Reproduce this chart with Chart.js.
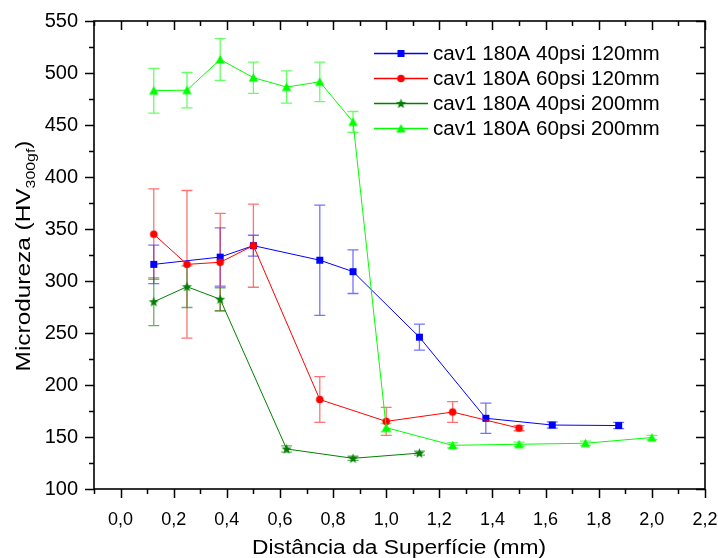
<!DOCTYPE html>
<html>
<head>
<meta charset="utf-8">
<script src="https://cdn.jsdelivr.net/npm/chart.js@4.4.0/dist/chart.umd.min.js"></script>
<style>
body { margin: 0; background: #fff; }
#wrap { width: 718px; height: 558px; }
</style>
</head>
<body>
<div id="wrap"><canvas id="chart"></canvas></div>
<script>
var seriesNames = ["cav1 180A 40psi 120mm", "cav1 180A 60psi 120mm", "cav1 180A 40psi 200mm", "cav1 180A 60psi 200mm"];

var xBlue = [0.125, 0.375, 0.5, 0.75, 0.875, 1.125, 1.375, 1.625, 1.875];
var yBlue = [316, 323, 334, 320, 309, 246, 168, 161.5, 161];
var eBlue = [18.5, 28, 10, 53, 21, 12.5, 14.5, 3, 3];

var xRed = [0.125, 0.25, 0.375, 0.5, 0.75, 1.0, 1.25, 1.5];
var yRed = [345, 316, 318, 334, 186, 165, 174, 158.5];
var eRed = [43.5, 71, 47, 40, 22, 13.5, 10, 2.5];

var xDark = [0.125, 0.25, 0.375, 0.625, 0.875, 1.125];
var yDark = [280, 294.5, 282.5, 138.5, 129.5, 134.5];
var eDark = [23, 20, 11, 3, 2, 2];

var xGreen = [0.125, 0.25, 0.375, 0.5, 0.625, 0.75, 0.875, 1.0, 1.25, 1.5, 1.75, 2.0];
var yGreen = [483, 483.5, 513, 495.5, 486.5, 491.5, 453, 159, 142, 143, 144, 149.5];
var eGreen = [21.5, 17, 20, 15, 15.5, 19, 10, 4, 2.5, 2, 2, 2];

var xTicks = [0.0, 0.2, 0.4, 0.6, 0.8, 1.0, 1.2, 1.4, 1.6, 1.8, 2.0, 2.2];
var yTicks = [100, 150, 200, 250, 300, 350, 400, 450, 500, 550];

var colors = ["#0000ff", "#ff0000", "#008000", "#00ff00"];
var errColors = ["rgba(0,0,255,0.55)", "rgba(255,0,0,0.55)", "rgba(0,128,0,0.6)", "rgba(0,255,0,0.6)"];

// marker images, drawn once
function makeMarker(shape, color) {
    var c = document.createElement('canvas');
    c.width = 11;
    c.height = 11;
    var g = c.getContext('2d');
    g.fillStyle = color;
    g.beginPath();
    if (shape == 'square') {
        g.rect(2, 2, 7, 7);
    } else if (shape == 'circle') {
        g.arc(5.5, 5.5, 3.8, 0, Math.PI * 2);
    } else if (shape == 'triangle') {
        g.moveTo(5.5, 1);
        g.lineTo(10.2, 9.5);
        g.lineTo(0.8, 9.5);
        g.closePath();
    } else if (shape == 'star') {
        for (var i = 0; i < 10; i++) {
            var r = (i % 2 == 0) ? 5.3 : 2.2;
            var a = -Math.PI / 2 + i * Math.PI / 5;
            var px = 5.5 + r * Math.cos(a);
            var py = 5.9 + r * Math.sin(a);
            if (i == 0) g.moveTo(px, py); else g.lineTo(px, py);
        }
        g.closePath();
    }
    g.fill();
    return c;
}

var markers = [
    makeMarker('square', colors[0]),
    makeMarker('circle', colors[1]),
    makeMarker('star', colors[2]),
    makeMarker('triangle', colors[3])
];

function toPoints(xs, ys) {
    var pts = [];
    for (var i = 0; i < xs.length; i++) pts.push({ x: xs[i], y: ys[i] });
    return pts;
}

function makeDataset(i, xs, ys, es) {
    return {
        label: seriesNames[i],
        data: toPoints(xs, ys),
        errors: es,
        borderColor: colors[i],
        backgroundColor: colors[i],
        borderWidth: 1,
        pointStyle: markers[i],
        pointRadius: 5,
        tension: 0,
        order: 4 - i
    };
}

// vertical error bars with caps, drawn under the lines
var errorBars = {
    id: 'errorBars',
    beforeDatasetsDraw: function(chart) {
        var ctx = chart.ctx;
        var ys = chart.scales.y;
        ctx.save();
        ctx.lineWidth = 1.3;
        chart.data.datasets.forEach(function(ds, di) {
            var meta = chart.getDatasetMeta(di);
            ctx.strokeStyle = errColors[di];
            meta.data.forEach(function(pt, j) {
                var v = ds.data[j].y;
                var e = ds.errors[j];
                var top = ys.getPixelForValue(v + e);
                var bot = ys.getPixelForValue(v - e);
                var x = pt.x;
                ctx.beginPath();
                ctx.moveTo(x, top);
                ctx.lineTo(x, bot);
                ctx.moveTo(x - 5.5, top);
                ctx.lineTo(x + 5.5, top);
                ctx.moveTo(x - 5.5, bot);
                ctx.lineTo(x + 5.5, bot);
                ctx.stroke();
            });
        });
        ctx.restore();
    }
};

// box, major and minor ticks, titles and legend
var frame = {
    id: 'frame',
    afterDraw: function(chart) {
        var ctx = chart.ctx;
        var a = chart.chartArea;
        var xs = chart.scales.x;
        var ys = chart.scales.y;
        ctx.save();
        ctx.strokeStyle = '#000';
        ctx.lineWidth = 1.6;
        ctx.strokeRect(a.left, a.top, a.right - a.left, a.bottom - a.top);

        ctx.lineWidth = 1.5;
        ctx.beginPath();
        for (var v = -0.1; v <= 2.2001; v += 0.1) {
            var px = Math.round(xs.getPixelForValue(v)) + 0.5;
            var major = Math.abs(Math.round(v * 10) % 2) == 0;
            var len = major ? 9 : 5;
            ctx.moveTo(px, a.bottom);
            ctx.lineTo(px, a.bottom + len);
            ctx.moveTo(px, a.top);
            ctx.lineTo(px, a.top + len);
        }
        for (var w = 100; w <= 550; w += 25) {
            var py = Math.round(ys.getPixelForValue(w)) + 0.5;
            var len2 = (w % 50 == 0) ? 9 : 5;
            ctx.moveTo(a.left, py);
            ctx.lineTo(a.left - len2, py);
            ctx.moveTo(a.right, py);
            ctx.lineTo(a.right - len2, py);
        }
        ctx.stroke();

        // x title, text a bit wider as in the original
        ctx.fillStyle = '#000';
        ctx.font = '20px "Liberation Sans", Arial, sans-serif';
        ctx.textAlign = 'center';
        ctx.textBaseline = 'alphabetic';
        ctx.translate(399, 554);
        ctx.scale(1.14, 1);
        ctx.fillText('Distância da Superfície (mm)', 0, 0);
        ctx.setTransform(1, 0, 0, 1, 0, 0);

        // y title with subscript
        var mainFont = '20px "Liberation Sans", Arial, sans-serif';
        var subFont = '13px "Liberation Sans", Arial, sans-serif';
        var t1 = 'Microdureza (HV';
        var t2 = '300gf';
        var t3 = ')';
        ctx.font = mainFont;
        var w1 = ctx.measureText(t1).width;
        var w3 = ctx.measureText(t3).width;
        ctx.font = subFont;
        var w2 = ctx.measureText(t2).width;
        var total = w1 + w2 + w3;
        ctx.translate(30, 256);
        ctx.rotate(-Math.PI / 2);
        ctx.scale(1.22, 1);
        ctx.textAlign = 'left';
        var sx = -total / 2;
        ctx.font = mainFont;
        ctx.fillText(t1, sx, 0);
        ctx.font = subFont;
        ctx.fillText(t2, sx + w1, 5);
        ctx.font = mainFont;
        ctx.fillText(t3, sx + w1 + w2, 0);
        ctx.setTransform(1, 0, 0, 1, 0, 0);

        // legend
        var rows = [53, 78, 103, 128];
        ctx.font = '20px "Liberation Sans", Arial, sans-serif';
        ctx.textAlign = 'left';
        ctx.textBaseline = 'middle';
        for (var i = 0; i < 4; i++) {
            var ry = rows[i];
            ctx.strokeStyle = colors[i];
            ctx.lineWidth = 1.3;
            ctx.beginPath();
            ctx.moveTo(374, ry + 0.5);
            ctx.lineTo(428, ry + 0.5);
            ctx.stroke();
            ctx.drawImage(markers[i], 401 - 5.5, ry - 5);
            ctx.fillStyle = '#000';
            ctx.translate(433, ry + 1);
            ctx.scale(1.03, 1);
            ctx.fillText(seriesNames[i], 0, 0);
            ctx.setTransform(1, 0, 0, 1, 0, 0);
        }
        ctx.restore();
    }
};

var chart = new Chart(document.getElementById('chart').getContext('2d'), {
    type: 'line',
    data: {
        datasets: [
            makeDataset(0, xBlue, yBlue, eBlue),
            makeDataset(1, xRed, yRed, eRed),
            makeDataset(2, xDark, yDark, eDark),
            makeDataset(3, xGreen, yGreen, eGreen)
        ]
    },
    options: {
        responsive: true,
        maintainAspectRatio: false,
        animation: false,
        layout: { padding: { top: 21, right: 13, left: 0, bottom: 0 } },
        plugins: {
            legend: { display: false },
            tooltip: { enabled: false }
        },
        scales: {
            x: {
                type: 'linear',
                min: -0.1,
                max: 2.2,
                afterBuildTicks: function(scale) {
                    scale.ticks = xTicks.map(function(v) { return { value: v }; });
                },
                afterFit: function(scale) {
                    scale.height = 69;
                    scale.paddingLeft = 0;
                    scale.paddingRight = 0;
                },
                grid: { drawOnChartArea: false, drawTicks: false },
                border: { display: false },
                ticks: {
                    padding: 20,
                    color: '#000',
                    font: { family: '"Liberation Sans", Arial, sans-serif', size: 18 },
                    callback: function(v) { return v.toFixed(1).replace('.', ','); }
                }
            },
            y: {
                min: 100,
                max: 550,
                afterBuildTicks: function(scale) {
                    scale.ticks = yTicks.map(function(v) { return { value: v }; });
                },
                afterFit: function(scale) {
                    scale.width = 94;
                    scale.paddingTop = 0;
                    scale.paddingBottom = 0;
                },
                grid: { drawOnChartArea: false, drawTicks: false },
                border: { display: false },
                ticks: {
                    padding: 16,
                    color: '#000',
                    font: { family: '"Liberation Sans", Arial, sans-serif', size: 20 }
                }
            }
        }
    },
    plugins: [errorBars, frame]
});
</script>
</body>
</html>
